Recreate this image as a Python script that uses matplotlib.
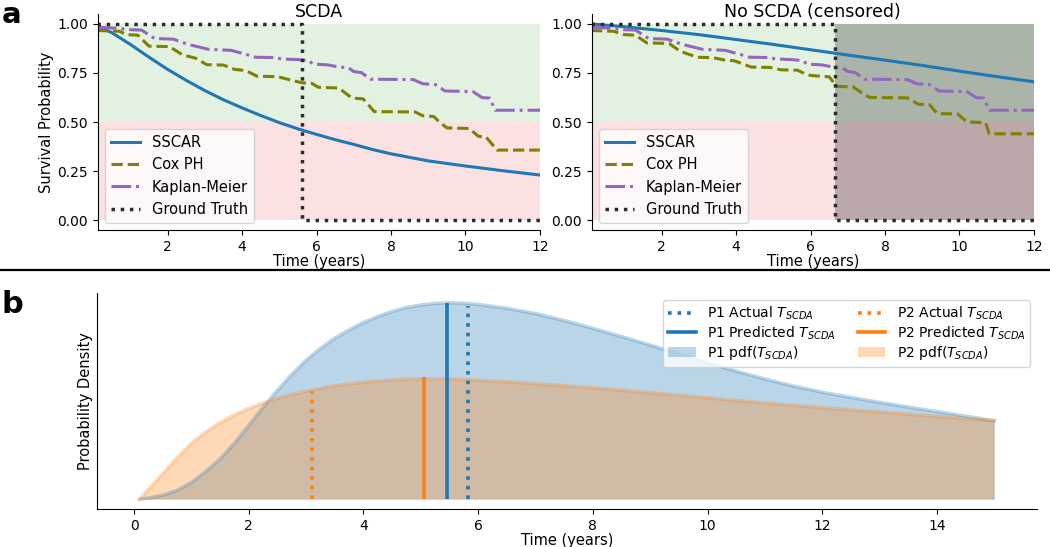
import numpy as np
import matplotlib.pyplot as plt
from matplotlib.lines import Line2D
from matplotlib.patches import Patch

# panel a: survival curves (time in years)
sscar_t = [0.1, 0.5, 1.0, 1.5, 2.0, 2.5, 3.0, 3.5, 4.0, 4.5, 5.0, 5.5, 6.0, 6.5, 7.0, 7.5, 8.0, 9.0, 10.0, 11.0, 12.0]
sscar_scda = [0.99, 0.955, 0.895, 0.83, 0.768, 0.712, 0.66, 0.613, 0.572, 0.533, 0.497, 0.465, 0.437, 0.41, 0.386, 0.36, 0.338, 0.302, 0.276, 0.252, 0.23]

sscar_nc_t = [0.1, 1, 2, 3, 4, 5, 6, 7, 8, 9, 10, 11, 12]
sscar_nc = [1.0, 0.985, 0.966, 0.945, 0.92, 0.895, 0.868, 0.841, 0.815, 0.788, 0.759, 0.731, 0.705]

km_t = [0.1, 0.6, 1.0, 1.3, 1.65, 2.15, 2.4, 2.6, 3.1, 3.7, 4.1, 4.35, 4.9, 5.05, 5.5, 5.8, 5.9, 6.3,
        6.6, 6.85, 7.0, 7.2, 7.45, 8.6, 8.85, 9.2, 9.45, 10.2, 10.45, 10.65, 10.8, 12.0]
km_s = [0.983, 0.978, 0.970, 0.968, 0.925, 0.922, 0.905, 0.893, 0.870, 0.865, 0.845, 0.83, 0.828, 0.821,
        0.818, 0.812, 0.795, 0.791, 0.78, 0.777, 0.757, 0.752, 0.718, 0.716, 0.695, 0.690, 0.658, 0.655,
        0.624, 0.622, 0.560, 0.560]

cox_scda_t = [0.1, 0.7, 0.9, 1.2, 1.5, 2.05, 2.4, 2.75, 3.05, 3.5, 3.8, 4.1, 4.4, 4.95, 5.3, 5.6, 5.87,
              6.05, 6.6, 6.95, 7.25, 7.55, 8.65, 8.85, 9.15, 9.3, 9.5, 10.1, 10.35, 10.55, 10.85, 12.0]
cox_scda = [0.966, 0.962, 0.945, 0.942, 0.886, 0.884, 0.842, 0.825, 0.792, 0.79, 0.768, 0.762, 0.733,
            0.731, 0.714, 0.70, 0.697, 0.677, 0.673, 0.622, 0.618, 0.553, 0.551, 0.532, 0.528, 0.50,
            0.47, 0.467, 0.427, 0.424, 0.357, 0.357]

cox_nc_t = [0.1, 0.7, 1.0, 1.3, 1.6, 2.2, 2.5, 2.95, 3.4, 3.7, 3.95, 4.4, 4.9, 5.2, 5.65, 5.85, 6.0,
            6.5, 6.7, 7.15, 7.45, 7.6, 8.6, 8.9, 9.2, 9.4, 9.95, 10.2, 10.7, 10.8, 12.0]
cox_nc = [0.966, 0.962, 0.945, 0.942, 0.903, 0.900, 0.86, 0.830, 0.827, 0.815, 0.812, 0.78, 0.778,
          0.766, 0.764, 0.745, 0.737, 0.73, 0.682, 0.678, 0.638, 0.625, 0.623, 0.59, 0.588, 0.543,
          0.541, 0.50, 0.497, 0.44, 0.44]

event_scda = 5.62      # observed SCDA time
censor_time = 6.65     # censoring time

# panel b: predicted pdfs (relative density)
pdf_t = [0.1, 0.25, 0.5, 0.75, 1.0, 1.25, 1.5, 1.75, 2.0, 2.25, 2.5, 2.75, 3.0, 3.25, 3.5, 3.75,
         4.0, 4.25, 4.5, 4.75, 5.0, 5.25, 5.5, 5.75, 6.0, 6.5, 7.0, 7.5, 8.0, 8.5, 9.0, 9.5, 10.0,
         10.5, 11.0, 11.5, 12.0, 12.5, 13.0, 13.5, 14.0, 14.5, 15.0]
pdf_p1 = [0.0, 0.005, 0.02, 0.045, 0.085, 0.14, 0.205, 0.285, 0.375, 0.468, 0.555, 0.635, 0.708, 0.768,
          0.82, 0.862, 0.90, 0.93, 0.956, 0.976, 0.989, 0.997, 1.0, 0.998, 0.992, 0.972, 0.945, 0.91,
          0.87, 0.828, 0.785, 0.74, 0.695, 0.652, 0.612, 0.576, 0.545, 0.518, 0.493, 0.469, 0.446,
          0.423, 0.40]
pdf_p2 = [0.0, 0.05, 0.13, 0.21, 0.285, 0.342, 0.39, 0.43, 0.462, 0.49, 0.513, 0.533, 0.55, 0.564,
          0.577, 0.587, 0.595, 0.602, 0.607, 0.611, 0.613, 0.613, 0.612, 0.609, 0.606, 0.598, 0.588,
          0.578, 0.567, 0.555, 0.542, 0.529, 0.516, 0.503, 0.49, 0.478, 0.466, 0.455, 0.444, 0.433,
          0.422, 0.411, 0.40]

p1_actual, p1_actual_h = 5.83, 0.985
p1_pred, p1_pred_h = 5.45, 1.0
p2_actual, p2_actual_h = 3.11, 0.55
p2_pred, p2_pred_h = 5.05, 0.62

c_sscar = '#1f77b4'
c_cox = '#808000'
c_km = '#9467bd'
c_gt = '#2b2b2b'
c_orange = '#ff7f0e'

fig = plt.figure(figsize=(10.5, 5.47), dpi=100)
ax1 = fig.add_axes([0.0930, 0.5795, 0.4212, 0.3949])
ax2 = fig.add_axes([0.5635, 0.5795, 0.4212, 0.3949])
ax3 = fig.add_axes([0.0924, 0.0695, 0.8952, 0.3949])


def survival_panel(ax, s_t, s_v, c_t, c_v, t_event, title, censored=False):
    ax.axhspan(0.5, 1.0, color='#e3f1e1', lw=0, zorder=0)
    ax.axhspan(0.0, 0.5, color='#fbe1e1', lw=0, zorder=0)
    if censored:
        ax.fill_between([t_event, 12], 0, 1, color='k', alpha=0.25, lw=0, zorder=0.5)
    ax.plot(s_t, s_v, color=c_sscar, lw=2.2, label='SSCAR')
    ax.plot(c_t, c_v, color=c_cox, lw=2.2, ls='--', label='Cox PH')
    ax.plot(km_t, km_s, color=c_km, lw=2.2, ls='-.', label='Kaplan-Meier')
    ax.plot([0.1, t_event, t_event, 12], [1, 1, 0, 0], color=c_gt, lw=2.5, ls=':',
            label='Ground Truth')
    ax.set_xlim(0.12, 12)
    ax.set_ylim(-0.05, 1.05)
    ax.set_xticks([2, 4, 6, 8, 10, 12])
    ax.set_yticks([0, 0.25, 0.5, 0.75, 1.0])
    ax.set_yticklabels(['0.00', '0.25', '0.50', '0.75', '1.00'])
    ax.tick_params(labelsize=10)
    ax.spines['top'].set_visible(False)
    ax.spines['right'].set_visible(False)
    ax.set_xlabel('Time (years)', fontsize=10.5, labelpad=0)
    ax.text(0.5, 0.986, title, transform=ax.transAxes, ha='center', va='baseline',
            fontsize=12.5)
    ax.legend(loc='lower left', fontsize=10.5)


survival_panel(ax1, sscar_t, sscar_scda, cox_scda_t, cox_scda, event_scda, 'SCDA')
survival_panel(ax2, sscar_nc_t, sscar_nc, cox_nc_t, cox_nc, censor_time, 'No SCDA (censored)',
               censored=True)
ax1.set_ylabel('Survival Probability', fontsize=10.5, labelpad=2)

# panel b
ax3.fill_between(pdf_t, 0, pdf_p1, color=c_sscar, alpha=0.3, lw=0)
ax3.plot(pdf_t, pdf_p1, color=c_sscar, alpha=0.3, lw=2.5)
ax3.fill_between(pdf_t, 0, pdf_p2, color=c_orange, alpha=0.3, lw=0)
ax3.plot(pdf_t, pdf_p2, color=c_orange, alpha=0.3, lw=2.5)
ax3.vlines(p1_actual, 0, p1_actual_h, color=c_sscar, lw=2.6, linestyles=':')
ax3.vlines(p1_pred, 0, p1_pred_h, color=c_sscar, lw=2.6)
ax3.vlines(p2_actual, 0, p2_actual_h, color=c_orange, lw=2.6, linestyles=':')
ax3.vlines(p2_pred, 0, p2_pred_h, color=c_orange, lw=2.6)
ax3.set_xticks(range(0, 15, 2))
ax3.set_yticks([])
ax3.tick_params(labelsize=10)
ax3.spines['top'].set_visible(False)
ax3.spines['right'].set_visible(False)
ax3.set_xlabel('Time (years)', fontsize=10.5, labelpad=0)
ax3.set_ylabel('Probability Density', fontsize=10.5, labelpad=3)

handles = [
    Line2D([], [], color=c_sscar, lw=2.6, ls=':'),
    Line2D([], [], color=c_sscar, lw=2.6),
    Patch(facecolor=c_sscar, alpha=0.3),
    Line2D([], [], color=c_orange, lw=2.6, ls=':'),
    Line2D([], [], color=c_orange, lw=2.6),
    Patch(facecolor=c_orange, alpha=0.3),
]
labels = [
    'P1 Actual $T_{SCDA}$', 'P1 Predicted $T_{SCDA}$', 'P1 pdf($T_{SCDA}$)',
    'P2 Actual $T_{SCDA}$', 'P2 Predicted $T_{SCDA}$', 'P2 pdf($T_{SCDA}$)',
]
ax3.legend(handles, labels, ncol=2, fontsize=10, loc='upper right',
           labelspacing=0.15, columnspacing=1.6, borderpad=0.35)

# separator and panel letters
fig.add_artist(Line2D([0, 1], [0.5064, 0.5064], color='k', lw=1.6))
fig.text(0.002, 0.999, 'a', fontsize=21, fontweight='bold', va='top')
fig.text(0.001, 1 - 313 / 547, 'b', fontsize=22, fontweight='bold', va='baseline')

fig.savefig('out.png', dpi=100)
